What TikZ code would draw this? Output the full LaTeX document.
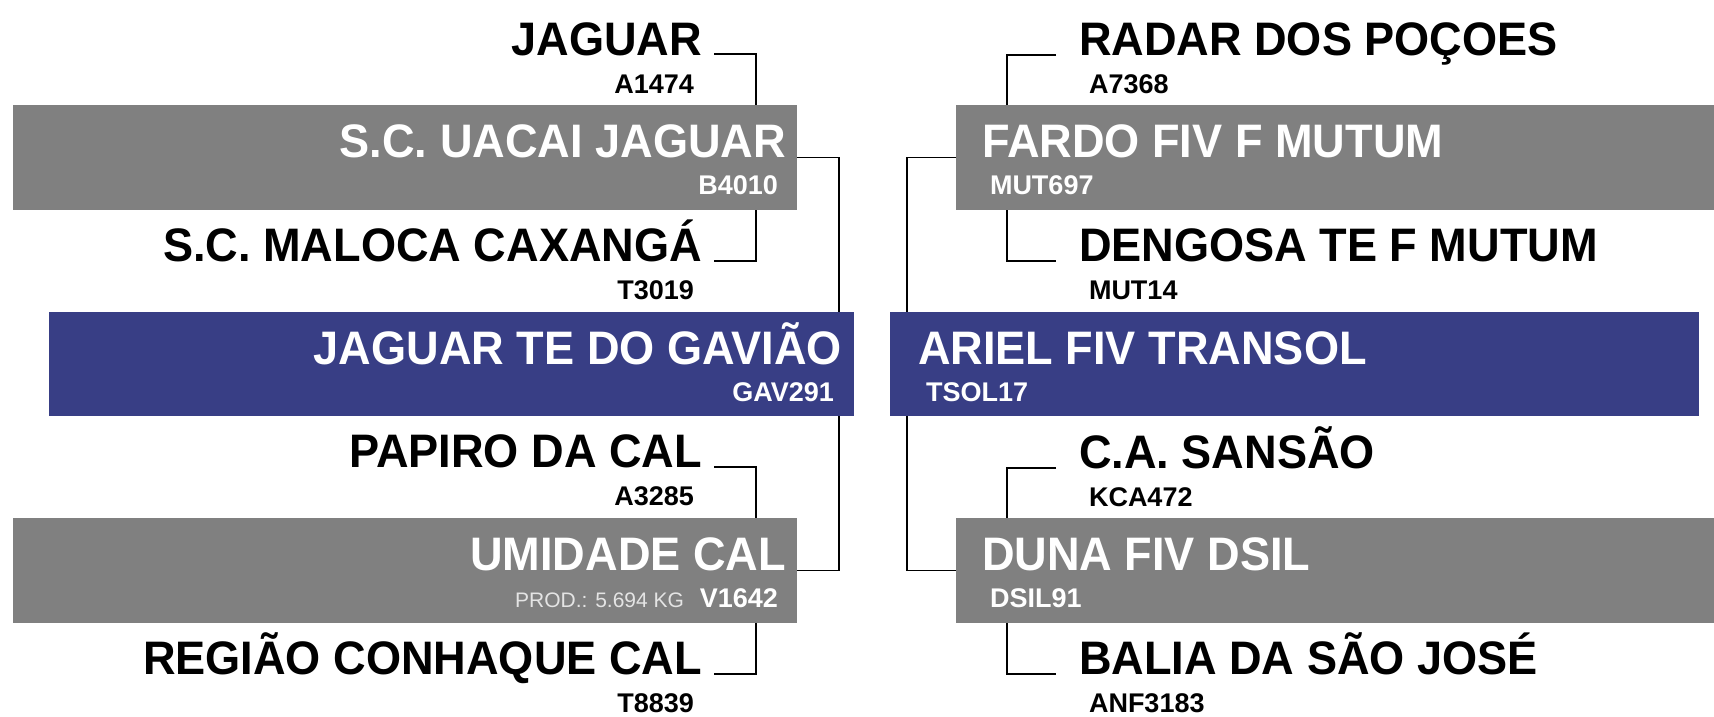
\documentclass[tikz,border=0pt]{standalone}
\usepackage{fontspec}
\newfontfamily\namefont[FakeStretch=0.96]{Liberation Sans}
\newfontfamily\codefont{Liberation Sans}
\definecolor{boxgray}{RGB}{128,128,128}
\definecolor{boxblue}{RGB}{56,62,133}
\definecolor{prodgray}{RGB}{228,228,228}
\begin{document}
\begin{tikzpicture}[x=1pt,y=-1pt,
  box/.style={draw=none, inner sep=0pt, outer sep=0pt, anchor=north west},
  graybox/.style={box, fill=boxgray, minimum height=105pt},
  bluebox/.style={box, fill=boxblue, minimum height=104pt},
  nm/.style={inner sep=0pt, outer sep=0pt, font=\namefont\bfseries\fontsize{47}{47}\selectfont},
  cd/.style={inner sep=0pt, outer sep=0pt, font=\codefont\bfseries\fontsize{27}{27}\selectfont},
  prod/.style={inner sep=0pt, outer sep=0pt, text=prodgray, font=\codefont\fontsize{21}{21}\selectfont},
  link/.style={draw=black, line width=1.6pt}]
\useasboundingbox (0,0) rectangle (1714,716);

% ---------- boxes ----------
\node[graybox, minimum width=784pt] (g1) at (13,105) {};
\node[bluebox, minimum width=805pt] (b1) at (49,312) {};
\node[graybox, minimum width=784pt] (g3) at (13,518) {};
\node[graybox, minimum width=758pt] (g2) at (956,105) {};
\node[bluebox, minimum width=809pt] (b2) at (890,312) {};
\node[graybox, minimum width=758pt] (g4) at (956,518) {};

% ---------- left texts ----------
\node[nm, anchor=base east] (jagn) at (702,55) {JAGUAR};
\node[cd, anchor=base east] (jagc) at (694,93) {A1474};
\node[nm, anchor=base east, text=white] (g1n) at (786,157) {S.C. UACAI JAGUAR};
\node[cd, anchor=base east, text=white] (g1c) at (778,194) {B4010};
\node[nm, anchor=base east] (maln) at (702,261) {S.C. MALOCA CAXANGÁ};
\node[cd, anchor=base east] (malc) at (694,299) {T3019};
\node[nm, anchor=base east, text=white] (b1n) at (842,364) {JAGUAR TE DO GAVIÃO};
\node[cd, anchor=base east, text=white] (b1c) at (834,401) {GAV291};
\node[nm, anchor=base east] (papn) at (702,467) {PAPIRO DA CAL};
\node[cd, anchor=base east] (papc) at (694,505) {A3285};
\node[nm, anchor=base east, text=white] (g3n) at (786,570) {UMIDADE CAL};
\node[cd, anchor=base east, text=white] (g3c) at (778,607) {V1642};
\node[prod, anchor=base east] (g3p) at (684,607) {PROD.: 5.694 KG};
\node[nm, anchor=base east] (regn) at (702,674) {REGIÃO CONHAQUE CAL};
\node[cd, anchor=base east] (regc) at (694,712) {T8839};

% ---------- right texts ----------
\node[nm, anchor=base west] (radn) at (1079,55) {RADAR DOS POÇOES};
\node[cd, anchor=base west] (radc) at (1089,93) {A7368};
\node[nm, anchor=base west, text=white] (g2n) at (982,157) {FARDO FIV F MUTUM};
\node[cd, anchor=base west, text=white] (g2c) at (990,194) {MUT697};
\node[nm, anchor=base west] (denn) at (1079,261) {DENGOSA TE F MUTUM};
\node[cd, anchor=base west] (denc) at (1089,299) {MUT14};
\node[nm, anchor=base west, text=white] (b2n) at (918,364) {ARIEL FIV TRANSOL};
\node[cd, anchor=base west, text=white] (b2c) at (926,401) {TSOL17};
\node[nm, anchor=base west] (sann) at (1079,468) {C.A. SANSÃO};
\node[cd, anchor=base west] (sanc) at (1089,506) {KCA472};
\node[nm, anchor=base west, text=white] (g4n) at (982,570) {DUNA FIV DSIL};
\node[cd, anchor=base west, text=white] (g4c) at (990,607) {DSIL91};
\node[nm, anchor=base west] (baln) at (1079,674) {BALIA DA SÃO JOSÉ};
\node[cd, anchor=base west] (balc) at (1089,712) {ANF3183};

% ---------- connector end points ----------
\coordinate (jagk) at (714,54);
\coordinate (malk) at (714,261);
\coordinate (papk) at (714,467);
\coordinate (regk) at (714,674);
\coordinate (radk) at (1056,55);
\coordinate (denk) at (1056,261);
\coordinate (sank) at (1056,468);
\coordinate (balk) at (1056,674);

% ---------- left connectors ----------
\draw[link] (jagk) -| (756,0 |- g1.north);
\draw[link] (756,0 |- g1.south) |- (malk);
\draw[link] (papk) -| (756,0 |- g3.north);
\draw[link] (756,0 |- g3.south) |- (regk);
\draw[link] (g1.east) -| (839,0 |- b1.north);
\draw[link] (839,0 |- b1.south) |- (g3.east);

% ---------- right connectors ----------
\draw[link] (radk) -| (1007,0 |- g2.north);
\draw[link] (1007,0 |- g2.south) |- (denk);
\draw[link] (sank) -| (1007,0 |- g4.north);
\draw[link] (1007,0 |- g4.south) |- (balk);
\draw[link] (g2.west) -| (907,0 |- b2.north);
\draw[link] (907,0 |- b2.south) |- (g4.west);
\end{tikzpicture}
\end{document}
